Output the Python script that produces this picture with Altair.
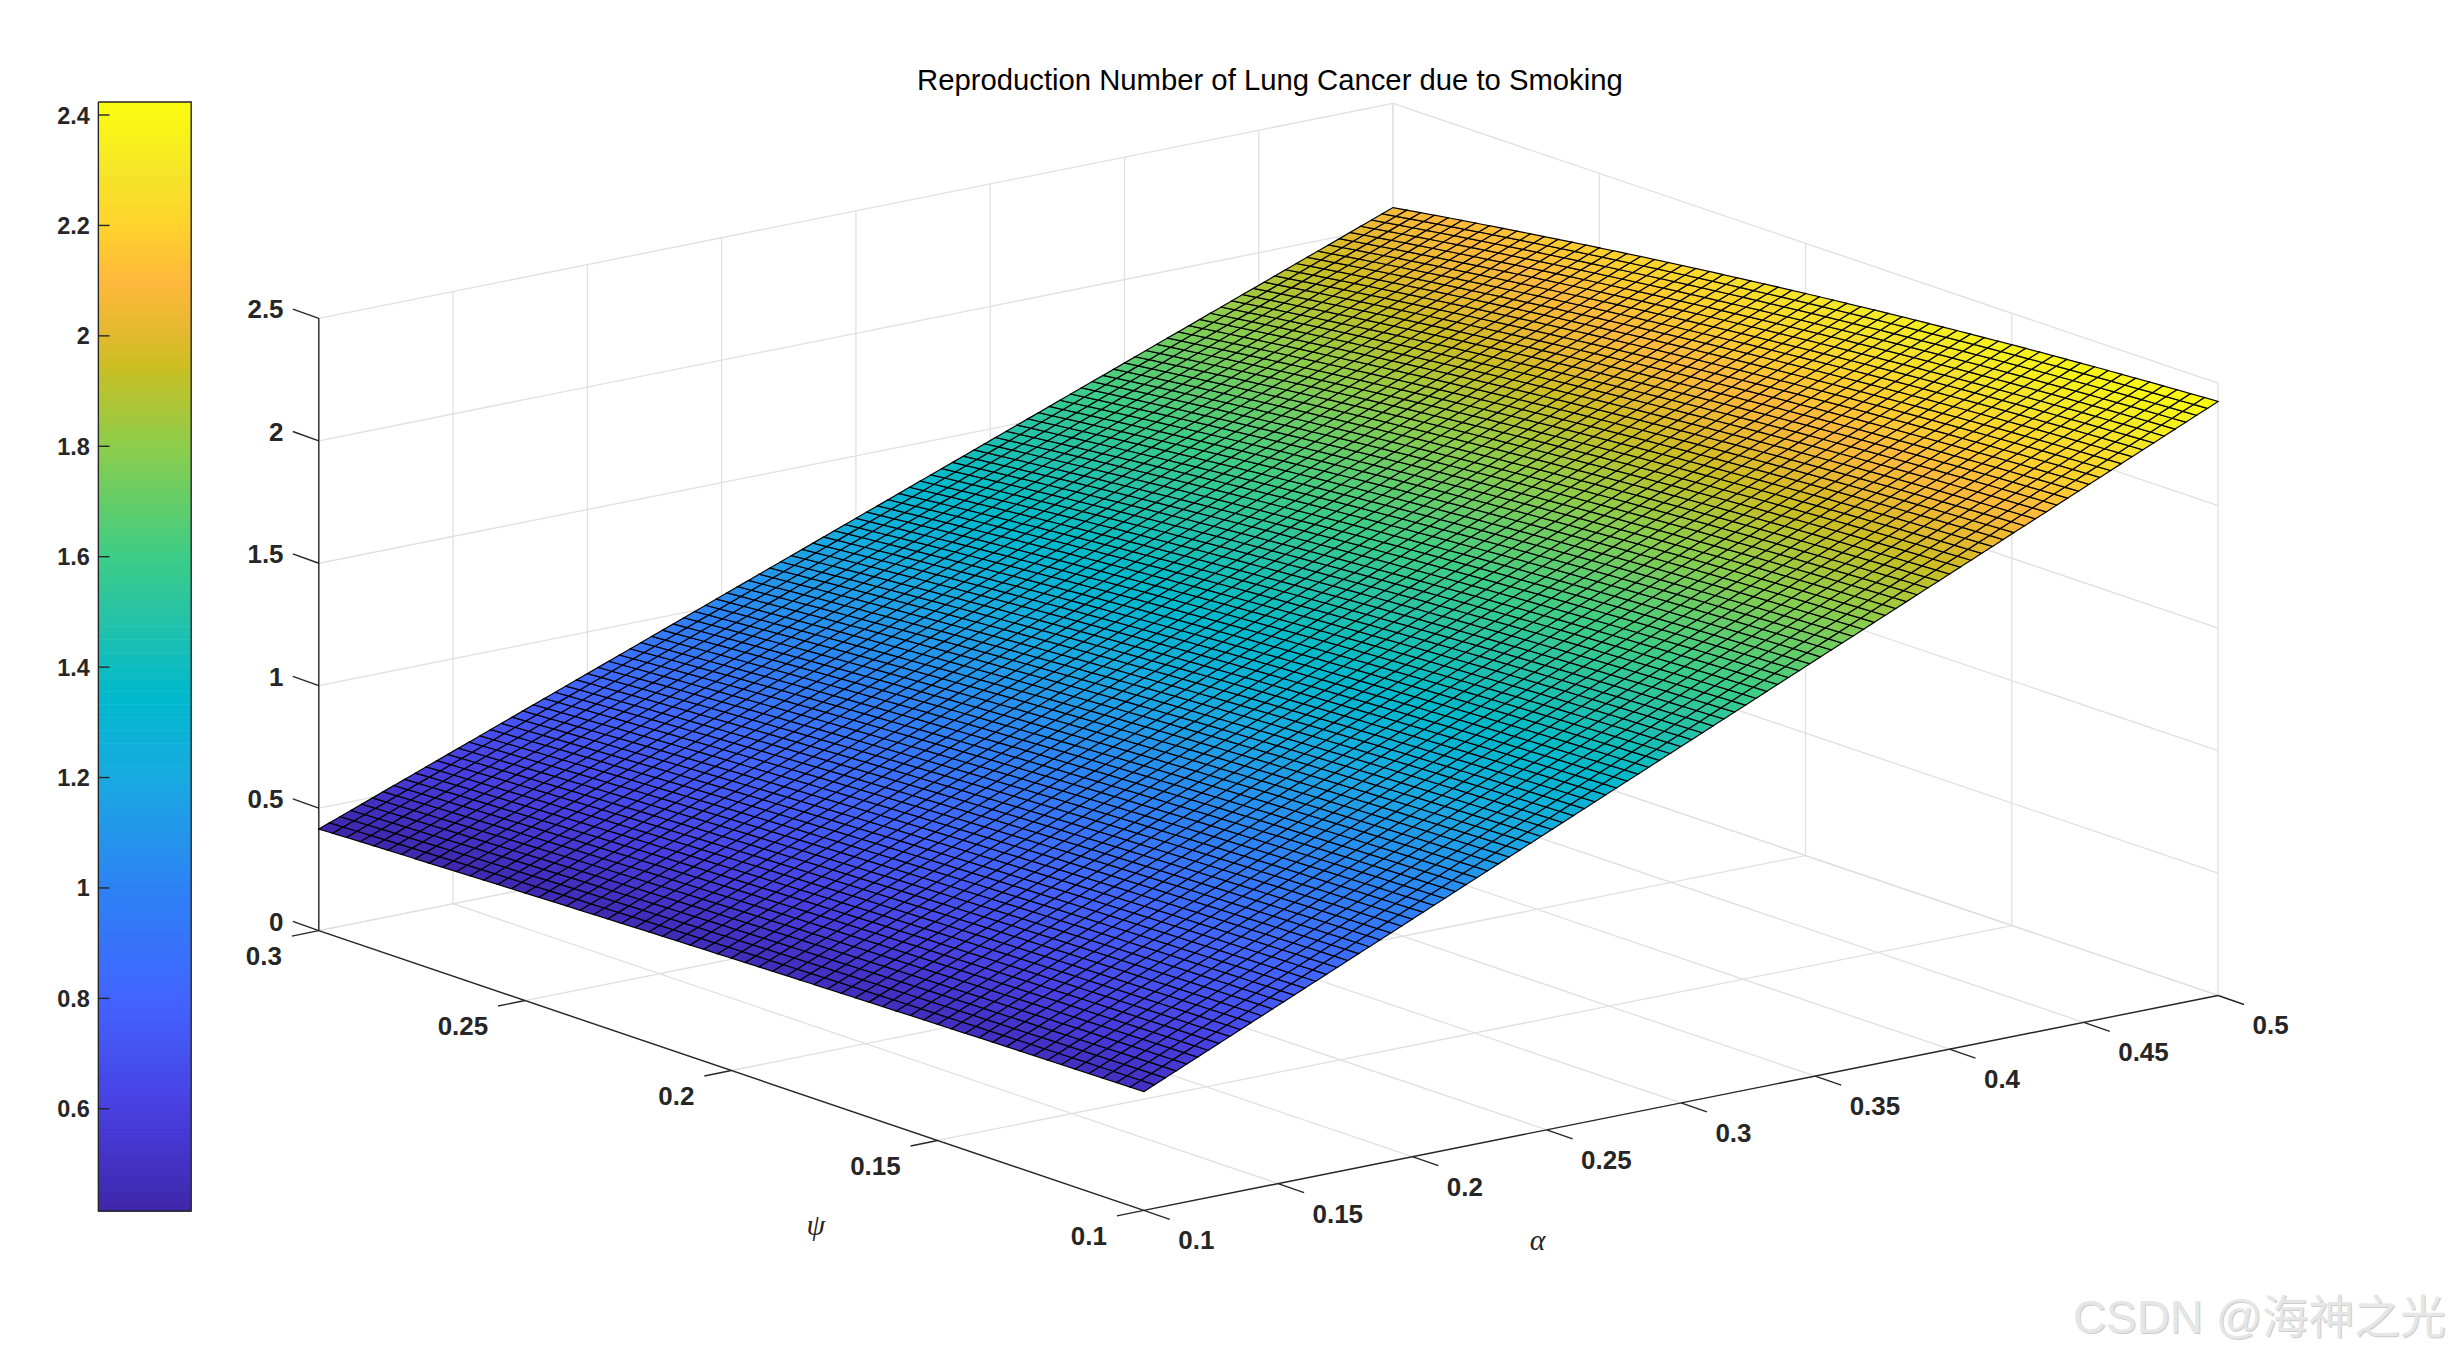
import altair as alt

# ---- values ----
alpha_ticks = [0.1, 0.15, 0.2, 0.25, 0.3, 0.35, 0.4, 0.45, 0.5]
psi_ticks = [0.1, 0.15, 0.2, 0.25, 0.3]
z_ticks = [0, 0.5, 1, 1.5, 2, 2.5]
colorbar_ticks = [0.6, 0.8, 1, 1.2, 1.4, 1.6, 1.8, 2, 2.2, 2.4]
colorbar_levels = 256
alpha_cells = 100
psi_cells = 60
# R0 per unit alpha, along the psi mesh from psi=0.1 to psi=0.3 (read from the surface edges)
r_per_alpha = [
    4.851, 4.8452, 4.8392, 4.833, 4.8266, 4.82, 4.8132, 4.8062, 4.799, 4.7916, 4.784,
    4.7762, 4.7682, 4.76, 4.7516, 4.743, 4.7342, 4.7252, 4.716, 4.7066, 4.697,
    4.6872, 4.6772, 4.667, 4.6566, 4.646, 4.6352, 4.6242, 4.613, 4.6016, 4.59,
    4.5782, 4.5662, 4.554, 4.5416, 4.529, 4.5162, 4.5032, 4.49, 4.4766, 4.463,
    4.4492, 4.4352, 4.421, 4.4066, 4.392, 4.3772, 4.3622, 4.347, 4.3316, 4.316,
    4.3002, 4.2842, 4.268, 4.2516, 4.235, 4.2182, 4.2012, 4.184, 4.1666, 4.149,
]
color_stops = [0.415, 0.5, 0.6, 0.8, 1.0, 1.2, 1.35, 1.5, 1.6, 1.8, 1.95, 2.0, 2.1, 2.2, 2.3, 2.4235]
color_values = ["#3e26a8", "#4431c4", "#483fe0", "#4264ff", "#2d82f5", "#19aae1", "#00b9cd",
                "#28c3a5", "#3ccd87", "#8ccd4b", "#cdbe23", "#e1b92d", "#ffb93c", "#ffd22d",
                "#f5e628", "#fafc0f"]
title_text = "Reproduction Number of Lung Cancer due to Smoking"
watermark = "CSDN @海神之光"

INK = "#262626"
GRID = "#e0e0e0"
SANS = "Liberation Sans"


def screen(a, p, z=0.0):
    x = 1145.7 + (a - 0.1) / 0.4 * 1076.0 - (p - 0.1) / 0.2 * 826.4
    y = 1211.3 - (a - 0.1) / 0.4 * 215.3 - (p - 0.1) / 0.2 * 280.3 - z * 245.3
    return [round(x, 2), round(y, 2)]


def colorbar_y(v):
    return round(888.3 - (v - 1.0) * 553.0, 2)


def polyline(points):
    return {"type": "Feature", "properties": {},
            "geometry": {"type": "LineString", "coordinates": points}}


def polygon(ring, z):
    return {"type": "Feature", "properties": {"z": round(z, 4)},
            "geometry": {"type": "Polygon", "coordinates": [ring]}}


# surface
alphas = [0.1 + 0.4 * i / alpha_cells for i in range(alpha_cells + 1)]
psis = [0.1 + 0.2 * j / psi_cells for j in range(psi_cells + 1)]
cells = []
for i in range(alpha_cells):
    for j in range(psi_cells):
        corners = [(i, j), (i + 1, j), (i + 1, j + 1), (i, j + 1), (i, j)]
        ring = [screen(alphas[a], psis[p], alphas[a] * r_per_alpha[p]) for a, p in corners]
        zs = [alphas[a] * r_per_alpha[p] for a, p in corners[:4]]
        cells.append(polygon(ring, sum(zs) / 4))

# colorbar bands, coloured by the same scale as the surface
BAR_LEFT, BAR_RIGHT = 98.5, 191.5
bar_low, bar_high = color_stops[0], color_stops[-1]
bands = []
for k in range(colorbar_levels):
    v0 = bar_low + (bar_high - bar_low) * k / colorbar_levels
    v1 = bar_low + (bar_high - bar_low) * (k + 1) / colorbar_levels
    y0, y1 = colorbar_y(v0) + 0.7, colorbar_y(v1)
    bands.append(polygon([[BAR_LEFT, y0], [BAR_RIGHT, y0], [BAR_RIGHT, y1], [BAR_LEFT, y1],
                          [BAR_LEFT, y0]], (v0 + v1) / 2))

# box grid
grid = []
for a in alpha_ticks:
    grid.append(polyline([screen(a, 0.1), screen(a, 0.3)]))
    grid.append(polyline([screen(a, 0.3), screen(a, 0.3, 2.5)]))
for p in psi_ticks:
    grid.append(polyline([screen(0.1, p), screen(0.5, p)]))
    grid.append(polyline([screen(0.5, p), screen(0.5, p, 2.5)]))
for z in z_ticks:
    grid.append(polyline([screen(0.1, 0.3, z), screen(0.5, 0.3, z)]))
    grid.append(polyline([screen(0.5, 0.3, z), screen(0.5, 0.1, z)]))

# axis lines and ticks
axes = [polyline([screen(0.1, 0.3), screen(0.1, 0.3, 2.5)]),
        polyline([screen(0.1, 0.3), screen(0.1, 0.1)]),
        polyline([screen(0.1, 0.1), screen(0.5, 0.1)])]
for z in z_ticks:
    x, y = screen(0.1, 0.3, z)
    axes.append(polyline([[x, y], [x - 26.0, y - 9.3]]))
for p in psi_ticks:
    x, y = screen(0.1, p)
    axes.append(polyline([[x, y], [x - 27.0, y + 5.5]]))
for a in alpha_ticks:
    x, y = screen(a, 0.1)
    axes.append(polyline([[x, y], [x + 26.0, y + 9.0]]))

bar_top, bar_bottom = colorbar_y(bar_high), colorbar_y(bar_low)
axes.append(polyline([[BAR_LEFT, bar_top], [BAR_RIGHT, bar_top], [BAR_RIGHT, bar_bottom],
                      [BAR_LEFT, bar_bottom], [BAR_LEFT, bar_top]]))
colorbar_labels = []
for v in colorbar_ticks:
    axes.append(polyline([[BAR_LEFT, colorbar_y(v)], [109.7, colorbar_y(v)]]))
    colorbar_labels.append({"lon": 90.0, "lat": colorbar_y(v) + 1.5, "label": f"{v:g}"})

z_labels, psi_labels, alpha_labels = [], [], []
for z in z_ticks:
    x, y = screen(0.1, 0.3, z)
    z_labels.append({"lon": x - 35.3, "lat": y - 8.0, "label": f"{z:g}"})
for p in psi_ticks:
    x, y = screen(0.1, p)
    psi_labels.append({"lon": x - 37.0, "lat": y + 26.5, "label": f"{p:g}"})
for a in alpha_ticks:
    x, y = screen(a, 0.1)
    alpha_labels.append({"lon": x + 34.5, "lat": y + 31.0, "label": f"{a:g}"})

projection = dict(type="identity", scale=1, translate=[-8, -8])
fill_scale = alt.Scale(domain=color_stops, range=color_values, interpolate="rgb")


def lines(features, color, width):
    return (alt.Chart(alt.Data(values=features))
            .mark_geoshape(filled=False, stroke=color, strokeWidth=width)
            .project(**projection))


def shapes(features, **style):
    return (alt.Chart(alt.Data(values=features))
            .mark_geoshape(**style)
            .encode(fill=alt.Fill("properties.z:Q", scale=fill_scale, legend=None))
            .project(**projection))


def texts(rows, **style):
    return (alt.Chart(alt.Data(values=rows))
            .mark_text(**style)
            .encode(longitude="lon:Q", latitude="lat:Q", text="label:N")
            .project(**projection))


tick_style = dict(font=SANS, fontSize=26, fontWeight="bold", color=INK, baseline="middle")
bar_style = dict(font=SANS, fontSize=23.5, fontWeight="bold", color=INK, baseline="middle")
greek_style = dict(font="Liberation Serif", fontSize=30, fontStyle="italic", color=INK,
                   baseline="middle", align="center")
mark_style = dict(font="Liberation Sans, Noto Sans CJK SC", fontSize=46, baseline="middle",
                  align="right")

layers = [
    lines(grid, GRID, 1.3),
    shapes(bands, strokeWidth=0),
    lines(axes, INK, 1.4),
    shapes(cells, stroke="#000000", strokeWidth=1.2),
    texts(colorbar_labels, align="right", **bar_style),
    texts(z_labels, align="right", **tick_style),
    texts(psi_labels, align="right", **tick_style),
    texts(alpha_labels, align="left", **tick_style),
    texts([{"lon": 817, "lat": 1227, "label": "ψ"}], **greek_style),
    texts([{"lon": 1540, "lat": 1242, "label": "α"}], **greek_style),
    texts([{"lon": 2451, "lat": 1321, "label": watermark}], color="#cccccc", **mark_style),
    texts([{"lon": 2450, "lat": 1320, "label": watermark}], color="#e6e6e6", **mark_style),
]
chart = alt.layer(*layers).properties(
    width=2443, height=1344, padding=0,
    autosize=alt.AutoSizeParams(type="none"),
    title=alt.TitleParams(title_text, anchor="middle", offset=-87, dx=42.5, font=SANS,
                          fontSize=29.3, fontWeight="normal", color="#000000"),
).configure_view(stroke=None)

chart.save("out.html", embed_options={"renderer": "svg", "actions": False})
